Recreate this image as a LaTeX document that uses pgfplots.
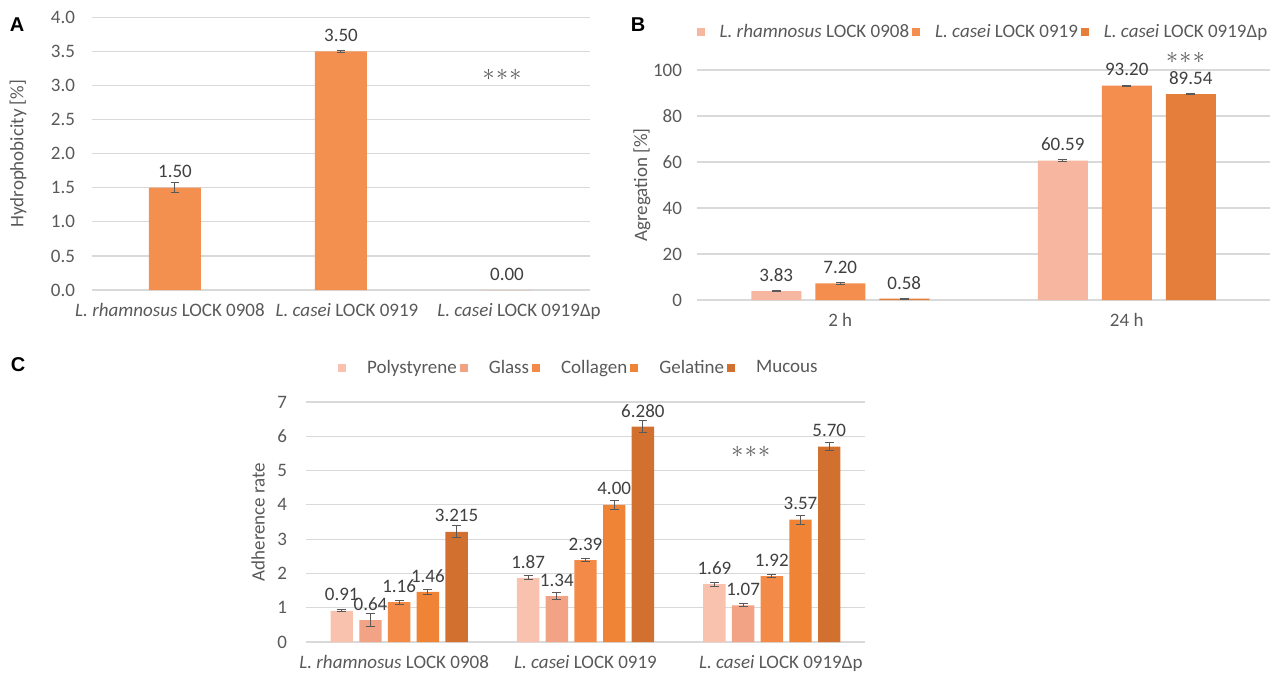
\documentclass[border=0pt]{standalone}
\usepackage{fontspec}
\setmainfont{Carlito}
\newfontfamily\arialf{Liberation Sans}
\usepackage{pgfplots}
\pgfplotsset{compat=1.18}
\definecolor{gridgray}{HTML}{D9D9D9}
\definecolor{tickgray}{HTML}{595959}
\definecolor{labgray}{HTML}{404040}
\definecolor{errgray}{HTML}{595959}
\definecolor{barA}{HTML}{F4904F}
\definecolor{bLight}{HTML}{F7B6A0}
\definecolor{bMid}{HTML}{F38E4E}
\definecolor{bDark}{HTML}{E57E3A}
\definecolor{cPoly}{HTML}{F9C2AE}
\definecolor{cGlass}{HTML}{F2A385}
\definecolor{cColl}{HTML}{F38A48}
\definecolor{cGel}{HTML}{EF8436}
\definecolor{cMuc}{HTML}{D2702F}
\newcommand{\fs}{\fontsize{9.5}{11}\selectfont}
\pgfplotsset{
  excel/.style={
    scale only axis,
    ybar,
    clip=false,
    axis line style={draw=none},
    major tick length=0pt,
    ymajorgrids,
    major grid style={color=gridgray, line width=0.6pt},
    ymin=0,
    xtick=data,
    /pgf/number format/assume math mode=true,
    tick label style={font=\fs, text=tickgray},
    xticklabel style={yshift=-3pt},
    label style={font=\fs, text=tickgray},
    nodes near coords={\pgfplotspointmeta},
    point meta=explicit symbolic,
    every node near coord/.append style={anchor=center, yshift=8pt, font=\fs, text=labgray},
  },
  eb/.style={
    /pgfplots/error bars/y dir=both,
    /pgfplots/error bars/y explicit,
    /pgfplots/error bars/error bar style={color=errgray, line width=0.5pt},
    /pgfplots/error bars/error mark options={rotate=90, mark size=2.2pt, color=errgray, line width=0.5pt},
  },
  sq/.style={legend image code/.code={\fill[##1] (0pt,-2pt) rectangle (4pt,2pt);}},
}
\newcommand{\stars}{{\color{tickgray}\fontsize{13}{13}\selectfont$\ast\!\ast\!\ast$}}
\begin{document}
\begin{tikzpicture}
\useasboundingbox (0,0) rectangle (640pt,-337.5pt);
% ---------------- Panel A
\begin{axis}[excel,
  at={(46pt,-145pt)}, anchor=south west,
  width=249pt, height=136.35pt,
  xmin=-0.5, xmax=2.5, ymax=4,
  xtick={0,1,2},
  ytick={0,0.5,...,4.01},
  yticklabel style={xshift=-5pt, /pgf/number format/fixed, /pgf/number format/fixed zerofill, /pgf/number format/precision=1},
  xticklabels={\textit{L. rhamnosus} LOCK 0908\hspace*{5pt}, \hspace*{6pt}\textit{L. casei} LOCK 0919, \hspace*{12pt}\textit{L. casei} LOCK 0919Δp},
  ylabel={Hydrophobicity [\%]},
  ylabel style={at={(axis description cs:-0.1486,0.5)}, anchor=center},
  bar width=26pt,
]
\addplot+[fill=barA, draw=none, bar shift=0pt, eb] table[x=x, y=y, y error plus=e, y error minus=e, meta=lab] {
x y e lab
0 1.50 0.07 1.50
1 3.50 0.02 3.50
};
\addplot+[fill=barA, draw=none, bar shift=0pt] table[x=x, y=y, meta=lab] {
x y lab
2 0.00 0.00
};
\node at (axis cs:1.97,3.15) {\stars};
\end{axis}
% ---------------- Panel B
\begin{axis}[excel,
  at={(348.5pt,-150pt)}, anchor=south west,
  width=286.5pt, height=115pt,
  xmin=-0.5, xmax=1.5, ymax=100,
  ytick={0,20,...,100},
  yticklabel style={xshift=-4pt},
  xticklabels={2 h, 24 h},
  ylabel={Agregation [\%]},
  ylabel style={at={(axis description cs:-0.096,0.5)}, anchor=center},
  bar width=25pt,
  legend columns=-1,
  legend style={draw=none, fill=none, at={(0.5,1.165)}, anchor=center, font=\fs, text=tickgray,
    nodes={inner xsep=1.5pt},
    /tikz/every odd column/.append style={column sep=6pt}},
]
\addplot+[fill=bLight, draw=none, bar shift=-32pt, sq, eb] table[x=x, y=y, y error plus=e, y error minus=e, meta=lab] {
x y e lab
0 3.83 0.3 3.83
1 60.59 0.3 60.59
};
\addplot+[fill=bMid, draw=none, bar shift=0pt, sq, eb] table[x=x, y=y, y error plus=e, y error minus=e, meta=lab] {
x y e lab
0 7.20 0.3 7.20
1 93.20 0.2 93.20
};
\addplot+[fill=bDark, draw=none, bar shift=32pt, sq, eb] table[x=x, y=y, y error plus=e, y error minus=e, meta=lab] {
x y e lab
0 0.58 0.2 0.58
1 89.54 0.3 89.54
};
\legend{\textit{L. rhamnosus} LOCK 0908, \textit{L. casei} LOCK 0919, \textit{L. casei} LOCK 0919Δp}
\node at (axis cs:1.205,105.2) {\stars};
\end{axis}
% ---------------- Panel C
\begin{axis}[excel,
  at={(153pt,-321pt)}, anchor=south west,
  width=279.5pt, height=120pt,
  xmin=-0.5, xmax=2.5, ymax=7,
  ytick={0,1,...,7},
  yticklabel style={xshift=-6pt},
  xticklabels={\textit{L. rhamnosus} LOCK 0908\hspace*{5pt}, \textit{L. casei} LOCK 0919, \hspace*{9pt}\textit{L. casei} LOCK 0919Δp},
  ylabel={Adherence rate},
  ylabel style={at={(axis description cs:-0.0859,0.5)}, anchor=center},
  bar width=11.2pt,
  legend columns=-1,
  legend style={draw=none, fill=none, at={(0.489,1.142)}, anchor=center, font=\fs, text=tickgray,
    nodes={inner xsep=1.5pt},
    /tikz/every odd column/.append style={column sep=9pt}},
]
\addplot+[fill=cPoly, draw=none, bar shift=-28.7pt, sq, eb] table[x=x, y=y, y error plus=e, y error minus=e, meta=lab] {
x y e lab
0 0.91 0.03 0.91
1 1.87 0.06 1.87
2 1.69 0.06 1.69
};
\addplot+[fill=cGlass, draw=none, bar shift=-14.35pt, sq, eb] table[x=x, y=y, y error plus=e, y error minus=e, meta=lab] {
x y e lab
0 0.64 0.18 0.64
1 1.34 0.11 1.34
2 1.07 0.04 1.07
};
\addplot+[fill=cColl, draw=none, bar shift=0pt, sq, eb] table[x=x, y=y, y error plus=e, y error minus=e, meta=lab] {
x y e lab
0 1.16 0.06 1.16
1 2.39 0.05 2.39
2 1.92 0.05 1.92
};
\addplot+[fill=cGel, draw=none, bar shift=14.35pt, sq, eb] table[x=x, y=y, y error plus=e, y error minus=e, meta=lab] {
x y e lab
0 1.46 0.08 1.46
1 4.00 0.13 4.00
2 3.57 0.13 3.57
};
\addplot+[fill=cMuc, draw=none, bar shift=28.7pt, sq, eb] table[x=x, y=y, y error plus=e, y error minus=e, meta=lab] {
x y e lab
0 3.215 0.18 3.215
1 6.280 0.18 6.280
2 5.70 0.11 5.70
};
\legend{Polystyrene, Glass, Collagen, Gelatine, Mucous}
\node at (axis cs:1.887,5.54) {\stars};
\end{axis}
% panel letters
\node[font=\arialf\bfseries\fontsize{10}{11}\selectfont] at (8.5pt,-12.5pt) {A};
\node[font=\arialf\bfseries\fontsize{10}{11}\selectfont] at (319pt,-12.5pt) {B};
\node[font=\arialf\bfseries\fontsize{10}{11}\selectfont] at (9pt,-182.5pt) {C};
\end{tikzpicture}
\end{document}
